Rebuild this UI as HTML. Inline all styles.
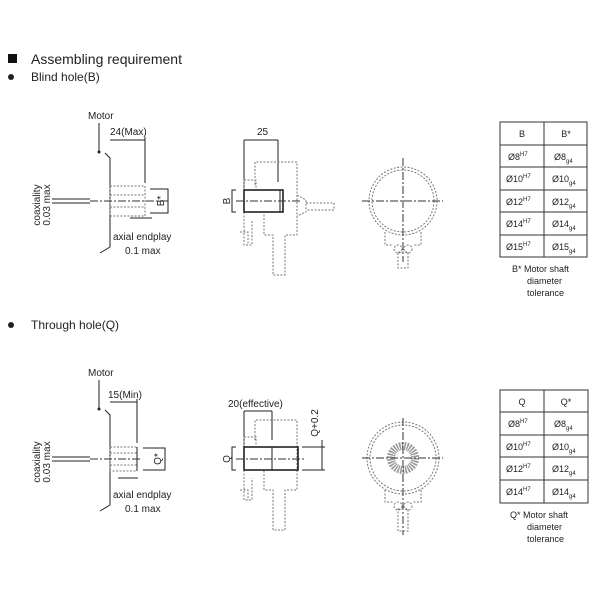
<!DOCTYPE html>
<html><head><meta charset="utf-8"><style>
body{margin:0;background:#fff;width:600px;height:600px;overflow:hidden}
svg{display:block}
text{font-family:"Liberation Sans",Arial,sans-serif;fill:#222}
.t{font-size:10px}
.d{stroke:#777;stroke-width:1;fill:none;stroke-dasharray:2 1.5}
.s{stroke:#222;stroke-width:1;fill:none}
.c{stroke:#333;stroke-width:1;fill:none;stroke-dasharray:8 2 2 2}
</style></head><body>
<svg width="600" height="600" viewBox="0 0 600 600">
<!-- headers -->
<rect x="8" y="54" width="9" height="9" fill="#111"/>
<text x="31" y="64" font-size="14">Assembling requirement</text>
<circle cx="11" cy="77" r="3" fill="#222"/>
<text x="31" y="81" font-size="12">Blind hole(B)</text>
<circle cx="11" cy="325" r="3" fill="#222"/>
<text x="31" y="329" font-size="12">Through hole(Q)</text>

<!-- ========== TOP LEFT ========== -->
<g>
<text class="t" x="88" y="119">Motor</text>
<line class="s" x1="99" y1="123" x2="99" y2="152"/><circle cx="99" cy="152" r="1.5" fill="#222"/>
<polyline class="s" points="105,153 110,158 110,247 100,253"/>
<text class="t" x="110" y="135">24(Max)</text>
<line class="s" x1="110" y1="140" x2="145" y2="140"/>
<line class="s" x1="145" y1="137" x2="145" y2="183"/>
<rect class="d" x="110" y="186" width="35" height="30"/>
<line class="d" x1="110" y1="195" x2="145" y2="195"/><line class="d" x1="110" y1="207" x2="145" y2="207"/>
<line class="c" x1="90" y1="201" x2="170" y2="201"/>
<line class="s" x1="52" y1="199" x2="90" y2="199"/><line class="s" x1="52" y1="203" x2="90" y2="203"/>
<text class="t" transform="translate(40,205) rotate(-90)" text-anchor="middle">coaxiality</text>
<text class="t" transform="translate(50,205) rotate(-90)" text-anchor="middle">0.03 max</text>
<polyline class="s" points="150,189 168,189 168,213 150,213"/>
<text class="t" transform="translate(164,201) rotate(-90)" text-anchor="middle">B*</text>
<line class="s" x1="130" y1="218" x2="152" y2="218"/>
<text class="t" x="113" y="240">axial endplay</text>
<text class="t" x="125" y="254">0.1 max</text>
</g>

<!-- ========== TOP MIDDLE ========== -->
<g>
<text class="t" x="257" y="135">25</text>
<line class="s" x1="244" y1="140" x2="278" y2="140"/>
<line class="s" x1="244" y1="140" x2="244" y2="190"/>
<line class="s" x1="278" y1="140" x2="278" y2="182"/>
<polyline class="d" points="255,185 255,162 297,162 297,235 285,235 285,275 273,275 273,235 264,235 264,212"/>
<rect class="d" x="244" y="180" width="12" height="10"/>
<polyline class="d" points="244,212 244,245 252,245 252,220"/>
<polyline class="d" points="240,232 248,232 248,245"/>
<rect x="244" y="190" width="39" height="22" fill="none" stroke="#222" stroke-width="1.6"/>
<line class="s" x1="280" y1="190" x2="280" y2="212"/>
<polyline class="s" points="236,190 232,190 232,212 236,212"/>
<text class="t" transform="translate(230,201) rotate(-90)" text-anchor="middle">B</text>
<line class="c" x1="236" y1="201" x2="302" y2="201"/>
<path class="d" d="M297,195 L306,200 L306,212 L297,216 M306,203 L334,203 L334,210 L306,210"/>
</g>

<!-- ========== TOP CIRCLE ========== -->
<g>
<circle class="d" cx="403" cy="201" r="34"/>
<circle class="d" cx="403" cy="201" r="31"/>
<line class="c" x1="362" y1="201" x2="443" y2="201"/>
<line class="c" x1="403" y1="158" x2="403" y2="262"/>
<path class="d" d="M385,232 L385,245 L393,245 M421,232 L421,245 L413,245"/>
<circle class="d" cx="398" cy="249" r="4"/><circle class="d" cx="408" cy="249" r="4"/>
<rect class="d" x="398" y="252" width="10" height="16"/>
</g>

<!-- ========== TABLE 1 ========== -->
<g font-size="9">
<rect x="500" y="122" width="87" height="135" fill="none" stroke="#333"/>
<line x1="544" y1="122" x2="544" y2="257" stroke="#333"/>
<line x1="500" y1="145" x2="587" y2="145" stroke="#333"/>
<line x1="500" y1="167" x2="587" y2="167" stroke="#333"/>
<line x1="500" y1="190" x2="587" y2="190" stroke="#333"/>
<line x1="500" y1="212" x2="587" y2="212" stroke="#333"/>
<line x1="500" y1="235" x2="587" y2="235" stroke="#333"/>
<text x="522" y="137" text-anchor="middle" font-size="9">B</text>
<text x="566" y="137" text-anchor="middle" font-size="9">B*</text>
<text x="508" y="160" font-size="9">Ø8<tspan font-size="6" dy="-4">H7</tspan></text>
<text x="554" y="160" font-size="9">Ø8<tspan font-size="6" dy="3">g4</tspan></text>
<text x="506" y="182" font-size="9">Ø10<tspan font-size="6" dy="-4">H7</tspan></text>
<text x="552" y="182" font-size="9">Ø10<tspan font-size="6" dy="3">g4</tspan></text>
<text x="506" y="205" font-size="9">Ø12<tspan font-size="6" dy="-4">H7</tspan></text>
<text x="552" y="205" font-size="9">Ø12<tspan font-size="6" dy="3">g4</tspan></text>
<text x="506" y="227" font-size="9">Ø14<tspan font-size="6" dy="-4">H7</tspan></text>
<text x="552" y="227" font-size="9">Ø14<tspan font-size="6" dy="3">g4</tspan></text>
<text x="506" y="250" font-size="9">Ø15<tspan font-size="6" dy="-4">H7</tspan></text>
<text x="552" y="250" font-size="9">Ø15<tspan font-size="6" dy="3">g4</tspan></text>
<text x="512" y="272" font-size="9">B*  Motor shaft</text>
<text x="527" y="284" font-size="9">diameter</text>
<text x="527" y="296" font-size="9">tolerance</text>
</g>

<!-- ========== BOTTOM LEFT ========== -->
<g>
<text class="t" x="88" y="376">Motor</text>
<line class="s" x1="99" y1="380" x2="99" y2="409"/><circle cx="99" cy="409" r="1.5" fill="#222"/>
<polyline class="s" points="105,410 110,415 110,505 100,511"/>
<text class="t" x="108" y="398">15(Min)</text>
<line class="s" x1="110" y1="402" x2="137" y2="402"/>
<line class="s" x1="137" y1="399" x2="137" y2="443"/>
<rect class="d" x="110" y="447" width="27" height="24"/>
<line class="d" x1="110" y1="453" x2="137" y2="453"/><line class="d" x1="110" y1="465" x2="137" y2="465"/>
<line class="s" x1="137" y1="447" x2="137" y2="471"/>
<line class="c" x1="90" y1="459" x2="142" y2="459"/>
<line class="s" x1="52" y1="457" x2="90" y2="457"/><line class="s" x1="52" y1="461" x2="90" y2="461"/>
<text class="t" transform="translate(40,462) rotate(-90)" text-anchor="middle">coaxiality</text>
<text class="t" transform="translate(50,462) rotate(-90)" text-anchor="middle">0.03 max</text>
<polyline class="s" points="143,448 165,448 165,470 143,470"/>
<text class="t" transform="translate(161,459) rotate(-90)" text-anchor="middle">Q*</text>
<line class="s" x1="118" y1="478" x2="138" y2="478"/>
<text class="t" x="113" y="498">axial endplay</text>
<text class="t" x="125" y="512">0.1 max</text>
</g>

<!-- ========== BOTTOM MIDDLE ========== -->
<g>
<text class="t" x="228" y="407">20(effective)</text>
<line class="s" x1="244" y1="411" x2="272" y2="411"/>
<line class="s" x1="244" y1="411" x2="244" y2="447"/>
<line class="s" x1="272" y1="411" x2="272" y2="440"/>
<polyline class="d" points="255,440 255,420 297,420 297,490 285,490 285,530 273,530 273,490 264,490 264,470"/>
<rect class="d" x="244" y="437" width="12" height="10"/>
<polyline class="d" points="244,470 244,500 252,500 252,478"/>
<polyline class="d" points="240,490 248,490 248,500"/>
<rect x="244" y="447" width="54" height="23" fill="none" stroke="#222" stroke-width="1.6"/>
<line class="s" x1="272" y1="447" x2="272" y2="470"/>
<polyline class="s" points="236,447 232,447 232,470 236,470"/>
<text class="t" transform="translate(230,459) rotate(-90)" text-anchor="middle">Q</text>
<line class="c" x1="236" y1="459" x2="305" y2="459"/>
<line class="s" x1="302" y1="447" x2="325" y2="447"/>
<line class="s" x1="302" y1="470" x2="325" y2="470"/>
<line class="s" x1="322" y1="440" x2="322" y2="470"/>
<text class="t" transform="translate(318,423) rotate(-90)" text-anchor="middle">Q+0.2</text>
</g>

<!-- ========== BOTTOM CIRCLE ========== -->
<g>
<circle class="d" cx="403" cy="458" r="36"/>
<circle class="d" cx="403" cy="458" r="33"/>
<circle cx="403" cy="458" r="12" fill="none" stroke="#999" stroke-width="8" stroke-dasharray="1.5 1"/>
<line class="c" x1="362" y1="458" x2="443" y2="458"/>
<line class="c" x1="403" y1="418" x2="403" y2="535"/>
<path class="d" d="M385,490 L385,502 L393,502 M421,490 L421,502 L413,502"/>
<circle class="d" cx="398" cy="506" r="4"/><circle class="d" cx="408" cy="506" r="4"/>
<rect class="d" x="398" y="509" width="10" height="22"/>
</g>

<!-- ========== TABLE 2 ========== -->
<g>
<rect x="500" y="390" width="88" height="113" fill="none" stroke="#333"/>
<line x1="544" y1="390" x2="544" y2="503" stroke="#333"/>
<line x1="500" y1="412" x2="588" y2="412" stroke="#333"/>
<line x1="500" y1="435" x2="588" y2="435" stroke="#333"/>
<line x1="500" y1="457" x2="588" y2="457" stroke="#333"/>
<line x1="500" y1="480" x2="588" y2="480" stroke="#333"/>
<text x="522" y="405" text-anchor="middle" font-size="9">Q</text>
<text x="566" y="405" text-anchor="middle" font-size="9">Q*</text>
<text x="508" y="427" font-size="9">Ø8<tspan font-size="6" dy="-4">H7</tspan></text>
<text x="554" y="427" font-size="9">Ø8<tspan font-size="6" dy="3">g4</tspan></text>
<text x="506" y="450" font-size="9">Ø10<tspan font-size="6" dy="-4">H7</tspan></text>
<text x="552" y="450" font-size="9">Ø10<tspan font-size="6" dy="3">g4</tspan></text>
<text x="506" y="472" font-size="9">Ø12<tspan font-size="6" dy="-4">H7</tspan></text>
<text x="552" y="472" font-size="9">Ø12<tspan font-size="6" dy="3">g4</tspan></text>
<text x="506" y="495" font-size="9">Ø14<tspan font-size="6" dy="-4">H7</tspan></text>
<text x="552" y="495" font-size="9">Ø14<tspan font-size="6" dy="3">g4</tspan></text>
<text x="510" y="518" font-size="9">Q*  Motor shaft</text>
<text x="527" y="530" font-size="9">diameter</text>
<text x="527" y="542" font-size="9">tolerance</text>
</g>
</svg>
</body></html>
